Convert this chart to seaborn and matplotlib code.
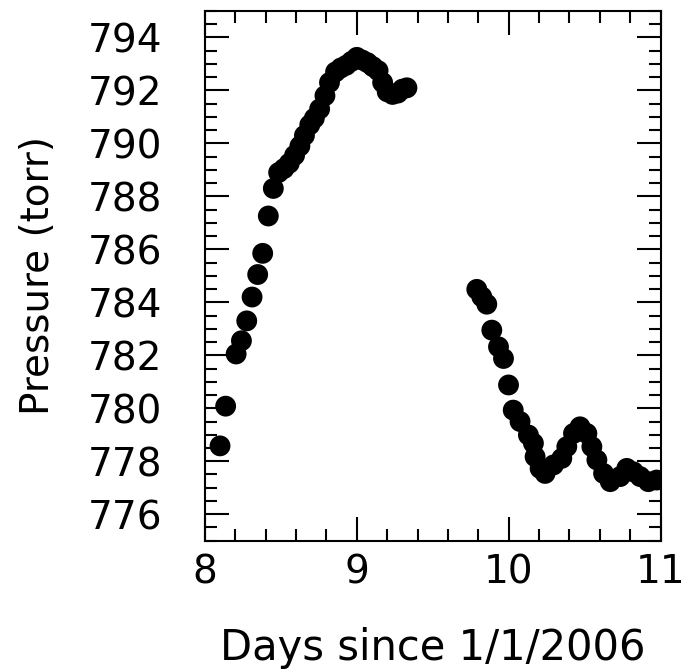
import matplotlib
matplotlib.use("Agg")
import matplotlib.pyplot as plt
from matplotlib.ticker import MultipleLocator
import seaborn as sns
import pandas as pd

# --- data -------------------------------------------------------------------
days_a = [8.099, 8.136, 8.205, 8.240, 8.275, 8.310, 8.347, 8.380, 8.417, 8.450,
          8.485, 8.520, 8.555, 8.590, 8.625, 8.655, 8.690, 8.720, 8.755, 8.790,
          8.820, 8.860, 8.895, 8.930, 8.965, 9.000, 9.035, 9.070, 9.105, 9.140,
          9.170, 9.200, 9.235, 9.270, 9.300, 9.330]
pres_a = [778.58, 780.08, 782.05, 782.55, 783.30, 784.20, 785.05, 785.85, 787.26, 788.30,
          788.90, 789.05, 789.25, 789.55, 789.90, 790.30, 790.70, 790.95, 791.30, 791.80,
          792.30, 792.70, 792.85, 792.95, 793.10, 793.25, 793.15, 793.05, 792.90, 792.75,
          792.30, 791.95, 791.85, 791.90, 792.05, 792.10]

days_b = [9.790, 9.823, 9.856, 9.889, 9.933, 9.966, 9.999, 10.030, 10.075, 10.130,
          10.163, 10.174, 10.207, 10.240, 10.295, 10.350, 10.383, 10.427, 10.470, 10.515,
          10.548, 10.581, 10.625, 10.669, 10.734, 10.778, 10.822, 10.866, 10.920, 10.975]
pres_b = [784.49, 784.21, 783.93, 782.95, 782.32, 781.88, 780.88, 779.93, 779.50, 778.99,
          778.68, 778.17, 777.73, 777.54, 777.86, 778.11, 778.55, 779.05, 779.30, 779.05,
          778.55, 778.05, 777.54, 777.23, 777.42, 777.73, 777.60, 777.42, 777.23, 777.29]

x_label = "Days since 1/1/2006"
y_label = "Pressure (torr)"

df = pd.DataFrame({"days": days_a + days_b, "pressure": pres_a + pres_b})

# --- figure -------------------------------------------------------------------
sns.set_style("ticks")
plt.rcParams["font.family"] = ["DejaVu Sans"]

fig = plt.figure(figsize=(6.81, 6.70), dpi=100)
ax = fig.add_axes([205 / 681, 1 - 540.7 / 670, 455.5 / 681, 529.7 / 670])

sns.scatterplot(data=df, x="days", y="pressure", color="black", s=225,
                edgecolor="none", linewidth=0, ax=ax, legend=False)

ax.set_xlim(8, 11)
ax.set_ylim(775, 795)
ax.xaxis.set_major_locator(MultipleLocator(1))
ax.xaxis.set_minor_locator(MultipleLocator(0.2))
ax.yaxis.set_major_locator(MultipleLocator(2))
ax.yaxis.set_minor_locator(MultipleLocator(0.5))
ax.set_yticks([776, 778, 780, 782, 784, 786, 788, 790, 792, 794])

for s in ax.spines.values():
    s.set_visible(True)
    s.set_linewidth(1.5)
    s.set_color("black")

ax.tick_params(which="both", direction="in", top=True, right=True,
               width=1.5, color="black", labelsize=28, labelcolor="black")
ax.tick_params(which="major", length=17)
ax.tick_params(which="minor", length=8.5)
ax.tick_params(axis="x", which="major", pad=9)
ax.tick_params(axis="y", which="major", pad=31)

ax.set_xlabel(x_label, fontsize=30, color="black")
ax.set_ylabel(y_label, fontsize=28, color="black")
ax.xaxis.set_label_coords(0.5, -0.163)
ax.yaxis.set_label_coords(-0.325, 0.5)

ax.set_facecolor("white")
fig.patch.set_facecolor("white")
fig.savefig("out.png", dpi=100, facecolor="white")
